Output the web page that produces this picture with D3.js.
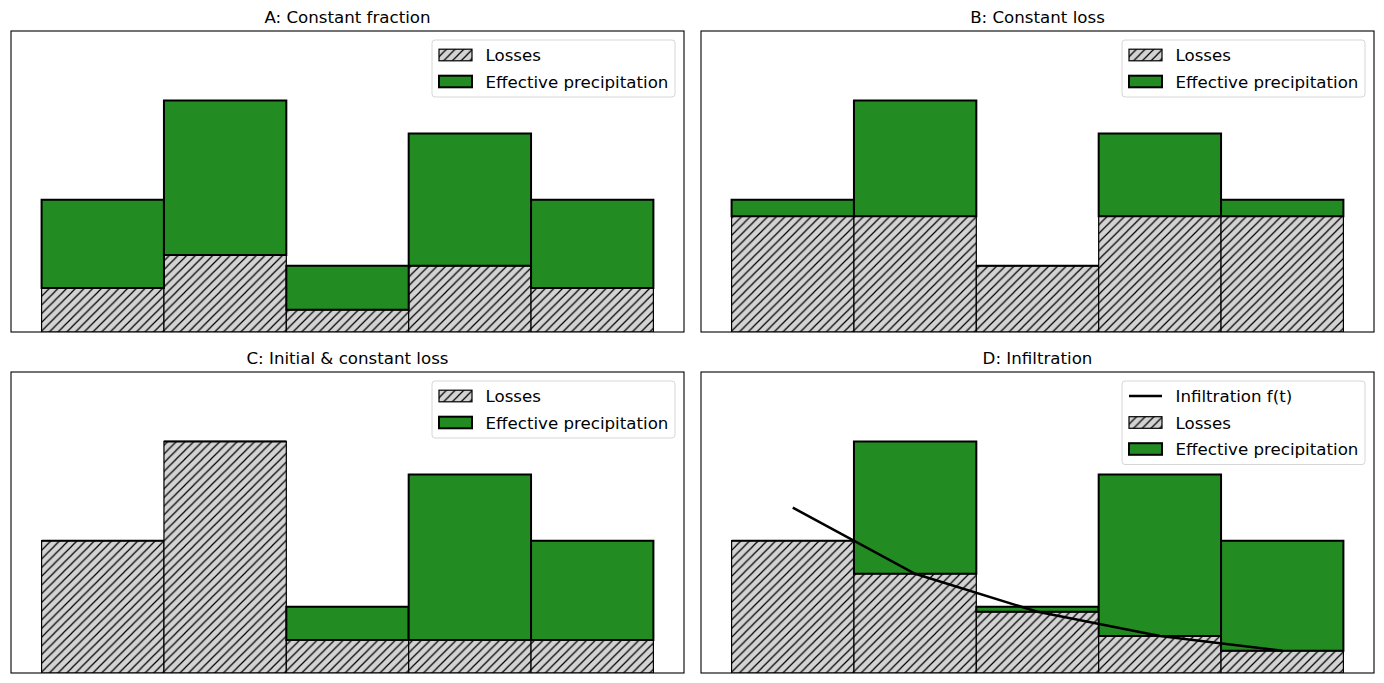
<!DOCTYPE html>
<html>
<head>
<meta charset="utf-8">
<script src="https://cdn.jsdelivr.net/npm/d3@7"></script>
<style>
body { margin: 0; background: #fff; }
text { font-family: "DejaVu Sans", sans-serif; }
</style>
</head>
<body>
<div class="chart"></div>
<script>
// time steps and rainfall per step
var steps = [0, 1, 2, 3, 4];
var precip = [4, 7, 2, 6, 4];

// losses per method
var lossFraction = [1.33, 2.33, 0.67, 2, 1.33];
var lossConstant = [3.5, 3.5, 2, 3.5, 3.5];
var lossInitial = [4, 7, 1, 1, 1];
var lossInfil = [4, 3, 1.85, 1.12, 0.67];

// infiltration capacity f(t)
var infilCurve = [5, 3, 1.85, 1.12, 0.67];

var titles = ["A: Constant fraction", "B: Constant loss", "C: Initial & constant loss", "D: Infiltration"];

var panels = [
    { title: titles[0], loss: lossFraction, x: 11, y: 31 },
    { title: titles[1], loss: lossConstant, x: 701, y: 31 },
    { title: titles[2], loss: lossInitial, x: 11, y: 372 },
    { title: titles[3], loss: lossInfil, x: 701, y: 372, curve: infilCurve }
];

var W = 673, H = 301;
var green = "#228b22";
var hs = 8.7;

var svg = d3.select(".chart").append("svg")
    .attr("width", 1384)
    .attr("height", 683);

var pat = svg.append("defs").append("pattern")
    .attr("id", "hatch")
    .attr("patternUnits", "userSpaceOnUse")
    .attr("width", hs)
    .attr("height", hs);
pat.append("rect").attr("width", hs).attr("height", hs).attr("fill", "#d3d3d3");
pat.append("path")
    .attr("d", "M -1 1 L 1 -1 M 0 " + hs + " L " + hs + " 0 M " + (hs - 1) + " " + (hs + 1) + " L " + (hs + 1) + " " + (hs - 1))
    .attr("stroke", "#000")
    .attr("stroke-width", 1.2);

var x = d3.scaleLinear().domain([-0.75, 4.75]).range([0, W]);
var y = d3.scaleLinear().domain([0, 9.1]).range([H, 0]);

var barPath = function(i, lo, hi) {
    var x0 = x(steps[i] - 0.5), x1 = x(steps[i] + 0.5);
    return "M" + x0 + "," + y(lo) + "L" + x0 + "," + y(hi) + "L" + x1 + "," + y(hi) + "L" + x1 + "," + y(lo) + "Z";
};

panels.forEach(function(p) {
    var g = svg.append("g").attr("transform", "translate(" + p.x + "," + p.y + ")");

    g.append("defs").append("clipPath").attr("id", "clip" + p.x + p.y)
        .append("rect").attr("width", W).attr("height", H);

    var plot = g.append("g").attr("clip-path", "url(#clip" + p.x + p.y + ")");

    plot.selectAll("path.loss").data(steps).enter().append("path")
        .attr("class", "loss")
        .attr("d", function(d, i) { return barPath(i, 0, p.loss[i]); })
        .attr("fill", "url(#hatch)")
        .attr("stroke", "#000")
        .attr("stroke-width", 1.2);

    plot.selectAll("path.eff").data(steps).enter().append("path")
        .attr("class", "eff")
        .attr("d", function(d, i) { return barPath(i, p.loss[i], precip[i]); })
        .attr("fill", green)
        .attr("stroke", "#000")
        .attr("stroke-width", 2);

    if (p.curve) {
        plot.append("path")
            .datum(p.curve)
            .attr("d", d3.line()
                .x(function(d, i) { return x(steps[i]); })
                .y(function(d) { return y(d); }))
            .attr("fill", "none")
            .attr("stroke", "#000")
            .attr("stroke-width", 2.5);
    }

    g.append("rect")
        .attr("width", W)
        .attr("height", H)
        .attr("fill", "none")
        .attr("stroke", "#000")
        .attr("stroke-width", 1.1);

    g.append("text")
        .attr("x", W / 2)
        .attr("y", -8.5)
        .attr("text-anchor", "middle")
        .attr("font-size", "16.67px")
        .text(p.title);

    // legend
    var items = [];
    if (p.curve) items.push({ label: "Infiltration f(t)", kind: "line" });
    items.push({ label: "Losses", kind: "loss" });
    items.push({ label: "Effective precipitation", kind: "eff" });

    var lw = 243, lh = 26.5 * items.length + 4;
    var leg = g.append("g").attr("transform", "translate(" + (W - 9 - lw) + ",9)");
    leg.append("rect")
        .attr("width", lw)
        .attr("height", lh)
        .attr("rx", 3)
        .attr("fill", "#fff")
        .attr("fill-opacity", 0.8)
        .attr("stroke", "#d6d6d6");

    var row = leg.selectAll("g.item").data(items).enter().append("g")
        .attr("class", "item")
        .attr("transform", function(d, i) { return "translate(0," + (15 + i * 26.5) + ")"; });

    row.each(function(d) {
        var r = d3.select(this);
        if (d.kind == "line") {
            r.append("line")
                .attr("x1", 7).attr("x2", 40)
                .attr("y1", 0).attr("y2", 0)
                .attr("stroke", "#000")
                .attr("stroke-width", 2.5);
        } else {
            r.append("rect")
                .attr("x", 7).attr("y", -5.8)
                .attr("width", 33).attr("height", 11.6)
                .attr("fill", d.kind == "loss" ? "url(#hatch)" : green)
                .attr("stroke", "#000")
                .attr("stroke-width", d.kind == "loss" ? 1.2 : 2);
        }
        r.append("text")
            .attr("x", 53.5)
            .attr("y", 6)
            .attr("font-size", "16.67px")
            .text(d.label);
    });
});
</script>
</body>
</html>
